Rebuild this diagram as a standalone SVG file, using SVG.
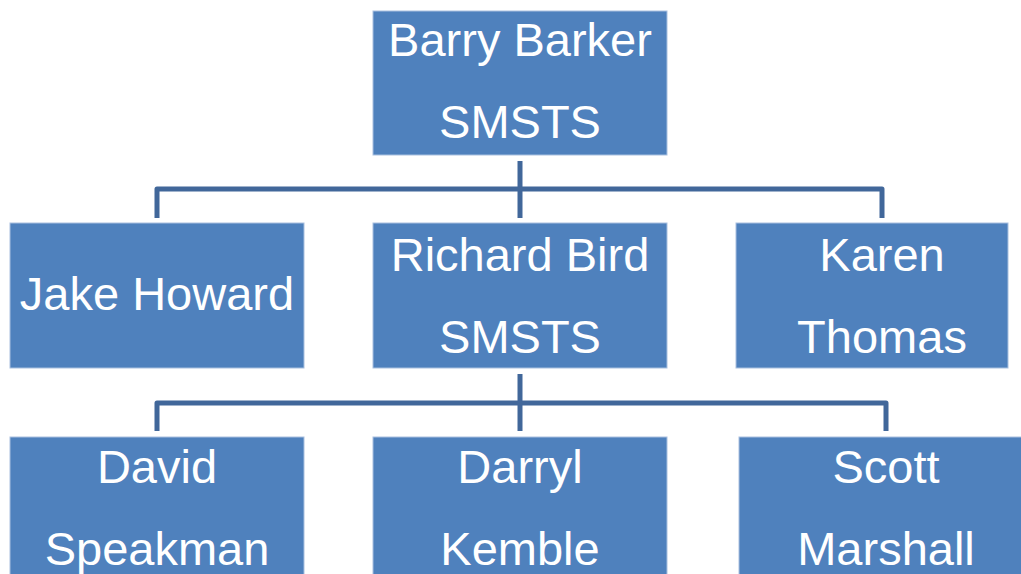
<svg xmlns="http://www.w3.org/2000/svg" width="1021" height="574" viewBox="0 0 1021 574">
<style>
.box{fill:#4f81bd;stroke:#a9c0df;stroke-width:1}
.t{fill:#ffffff;font-family:"Liberation Sans",Arial,sans-serif;font-size:47px;text-anchor:middle}
.c{fill:none;stroke:#41679a;stroke-width:5;stroke-linejoin:round}
</style>
<rect width="1021" height="574" fill="#ffffff"/>
<g id="connectors">
<path class="c" d="M520 161V218"/>
<path class="c" d="M157 218V189H882V218"/>
<path class="c" d="M520 374V431"/>
<path class="c" d="M157 431V403H886V431"/>
</g>
<g id="barry"><rect class="box" x="373" y="11" width="294" height="144"/><text class="t" x="520" y="56">Barry Barker</text><text class="t" x="520" y="138">SMSTS</text></g>
<g id="jake"><rect class="box" x="10" y="223" width="294" height="145"/><text class="t" x="157" y="310">Jake Howard</text></g>
<g id="richard"><rect class="box" x="373" y="223" width="294" height="145"/><text class="t" x="520" y="271">Richard Bird</text><text class="t" x="520" y="353">SMSTS</text></g>
<g id="karen"><rect class="box" x="736" y="223" width="272" height="145"/><text class="t" x="882" y="271">Karen</text><text class="t" x="882" y="353">Thomas</text></g>
<g id="david"><rect class="box" x="10" y="437" width="294" height="145"/><text class="t" x="157" y="483">David</text><text class="t" x="157" y="565">Speakman</text></g>
<g id="darryl"><rect class="box" x="373" y="437" width="294" height="145"/><text class="t" x="520" y="483">Darryl</text><text class="t" x="520" y="565">Kemble</text></g>
<g id="scott"><rect class="box" x="739" y="437" width="294" height="145"/><text class="t" x="886" y="483">Scott</text><text class="t" x="886" y="565">Marshall</text></g>
</svg>
